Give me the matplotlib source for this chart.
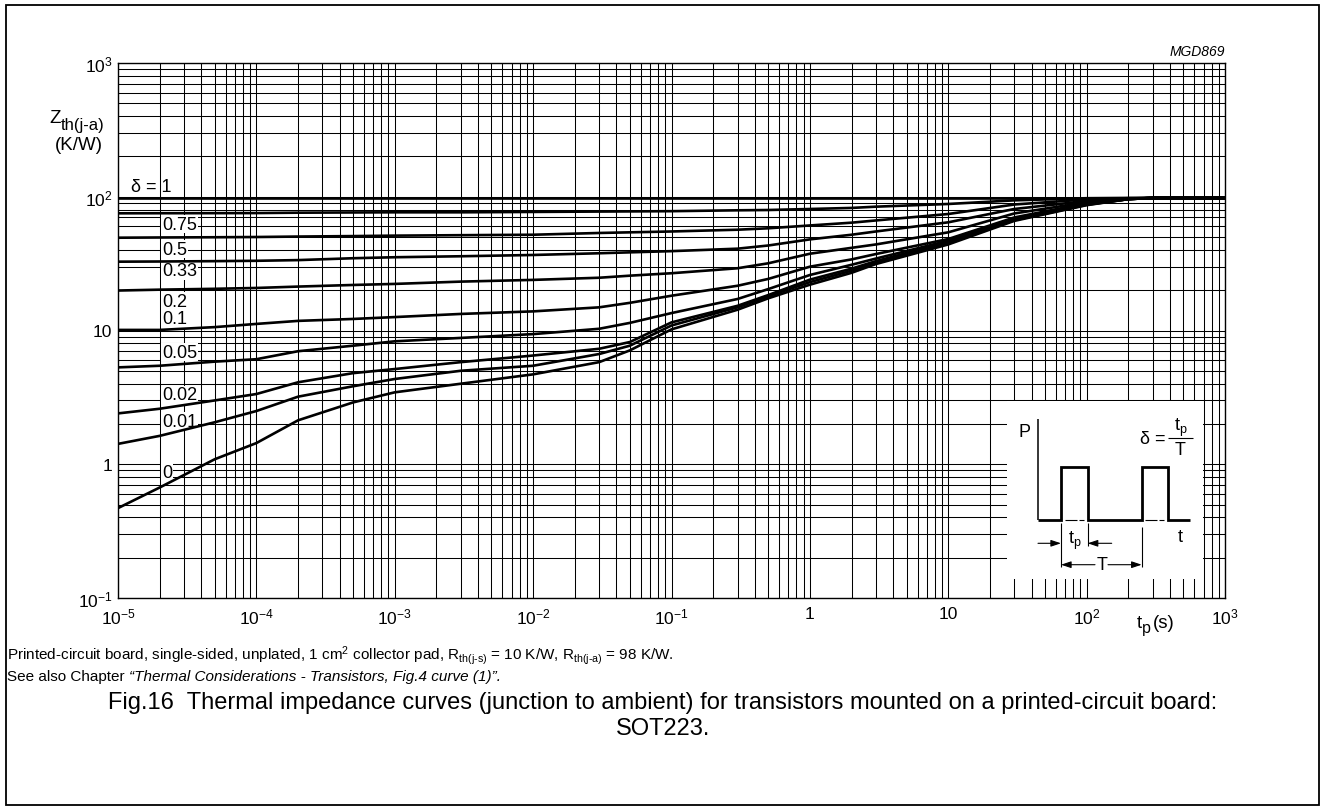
import matplotlib
matplotlib.use('Agg')
import matplotlib.pyplot as plt
from matplotlib.patches import Rectangle
from matplotlib.ticker import FixedLocator, NullFormatter, LogLocator
import numpy as np

plt.rcParams['font.family'] = ['Liberation Sans', 'DejaVu Sans']
plt.rcParams['mathtext.fontset'] = 'custom'
plt.rcParams['mathtext.rm'] = 'Liberation Sans'
plt.rcParams['mathtext.it'] = 'Liberation Sans:italic'
plt.rcParams['mathtext.bf'] = 'Liberation Sans:bold'
plt.rcParams['mathtext.default'] = 'regular'

# ---- data (pulse time tp in s, Zth(j-a) in K/W) ----
tp = [1e-5, 2e-5, 5e-5, 1e-4, 2e-4, 5e-4, 1e-3, 3e-3, 1e-2, 3e-2, 5e-2,
      1e-1, 3e-1, 5e-1, 1, 2, 3, 10, 30, 100, 200, 300, 1000]
z_d1 = [98] * 23
z_d075 = [75.2, 75.3, 75.4, 75.5, 76, 76.3, 76.5, 76.5, 77, 77.5, 77.7,
          78, 79.2, 79.6, 81, 82.5, 84.3, 88.3, 94, 97.5, 98, 98, 98]
z_d05 = [49.4, 49.6, 49.8, 50, 50.4, 50.8, 51.2, 51.6, 52, 53.6, 54.2,
         55, 56.7, 58.1, 61, 64, 66.5, 74.3, 87.5, 95.5, 97.5, 98, 98]
z_d033 = [32.7, 32.8, 33, 33.2, 33.6, 34.7, 35.3, 35.9, 36.7, 37.8, 38.4,
          39.2, 40.9, 43.2, 48, 52, 55, 64.4, 81, 93, 97, 98, 98]
z_d02 = [19.9, 20.2, 20.5, 20.8, 21.3, 21.9, 22.3, 23.2, 23.9, 24.8, 25.7,
         26.8, 29.2, 31.8, 37.5, 41.5, 44, 54.2, 75, 91, 96.5, 98, 98]
z_d01 = [10.1, 10.1, 10.6, 11.2, 11.8, 12.2, 12.6, 13.3, 13.9, 14.9, 16.1,
         18.2, 21.6, 24.3, 30, 34, 37.3, 48.3, 70, 89.5, 96, 98, 98]
z_d005 = [5.3, 5.45, 5.85, 6.1, 7.0, 7.7, 8.3, 8.8, 9.4, 10.3, 11.4,
          13.5, 17.2, 20.4, 26, 31, 34.5, 46.9, 68.5, 88, 96, 98, 98]
z_d002 = [2.4, 2.6, 3.0, 3.35, 4.1, 4.8, 5.15, 5.8, 6.5, 7.3, 8.2,
          11.5, 15.3, 18.4, 24, 29, 33, 45.9, 67.5, 87.5, 96, 98, 98]
z_d001 = [1.42, 1.63, 2.06, 2.5, 3.2, 3.83, 4.34, 5.0, 5.45, 6.67, 7.7,
          10.9, 14.9, 18.0, 23, 28, 32, 45.1, 66.8, 87, 96, 98, 98]
z_d0 = [0.47, 0.67, 1.09, 1.44, 2.13, 2.9, 3.45, 4.0, 4.7, 5.8, 7.1,
        10.2, 14.3, 17.4, 22, 27, 31.4, 44, 66, 86.5, 96, 98, 98]

series = [z_d1, z_d075, z_d05, z_d033, z_d02, z_d01, z_d005, z_d002, z_d001, z_d0]
labels = ['0.75', '0.5', '0.33', '0.2', '0.1', '0.05', '0.02', '0.01', '0']
label_z = [62.5, 40.6, 27.9, 16.6, 12.2, 6.9, 3.3, 2.1, 0.875]
label_tp = 2.08e-5

xticks = [1e-5, 1e-4, 1e-3, 1e-2, 1e-1, 1, 10, 100, 1000]
xticklabels = ['10$^{-5}$', '10$^{-4}$', '10$^{-3}$', '10$^{-2}$', '10$^{-1}$',
               '1', '10', '10$^{2}$', '10$^{3}$']
yticks = [0.1, 1, 10, 100, 1000]
yticklabels = ['10$^{-1}$', '1', '10', '10$^{2}$', '10$^{3}$']

W, H = 1325, 812
fig = plt.figure(figsize=(W / 100, H / 100), dpi=100)
fig.patch.set_facecolor('white')

ax = fig.add_axes([118 / W, 1 - 599 / H, 1107 / W, 535 / H])
ax.set_xscale('log')
ax.set_yscale('log')
ax.set_xlim(1e-5, 1e3)
ax.set_ylim(0.1, 1000)
ax.xaxis.set_major_locator(FixedLocator(xticks))
ax.yaxis.set_major_locator(FixedLocator(yticks))
ax.xaxis.set_minor_locator(LogLocator(base=10, subs=np.arange(2, 10), numticks=30))
ax.yaxis.set_minor_locator(LogLocator(base=10, subs=np.arange(2, 10), numticks=30))
ax.xaxis.set_minor_formatter(NullFormatter())
ax.yaxis.set_minor_formatter(NullFormatter())
ax.set_xticklabels(xticklabels)
ax.set_yticklabels(yticklabels)
ax.tick_params(which='both', length=0, labelsize=12.5, colors='black')
ax.tick_params(axis='x', pad=6)
ax.tick_params(axis='y', pad=4)
ax.grid(True, which='both', color='black', linewidth=0.75)
ax.set_axisbelow(True)
for s in ax.spines.values():
    s.set_linewidth(1.0)

for z in series:
    ax.plot(tp, z, color='black', linewidth=1.9, solid_capstyle='butt', zorder=3)

ax.text(1.73e-5, 120, 'δ = 1', fontsize=13, ha='center', va='center', zorder=4)
for lab, lz in zip(labels, label_z):
    ax.text(label_tp, lz, lab, fontsize=13, ha='left', va='center', zorder=2.5,
            bbox=dict(facecolor='white', edgecolor='none', pad=0.5))

# axis titles
fig.text(61 / W, 1 - 123 / H, 'Z', fontsize=13.5, ha='right', va='baseline')
fig.text(61 / W, 1 - 130 / H, 'th(j-a)', fontsize=12, ha='left', va='baseline')
fig.text(79 / W, 1 - 146 / H, '(K/W)', fontsize=13.5, ha='center', va='center')
fig.text(1142 / W, 1 - 628 / H, 't', fontsize=13.5, ha='right', va='baseline')
fig.text(1142 / W, 1 - 633 / H, 'p', fontsize=11.5, ha='left', va='baseline')
fig.text(1153 / W, 1 - 628 / H, '(s)', fontsize=13.5, ha='left', va='baseline')
fig.text(1225 / W, 1 - 52 / H, 'MGD869', fontsize=10, style='italic', ha='right', va='center')

# inset pulse diagram
ins = fig.add_axes([1007 / W, 1 - 580 / H, 196 / W, 178 / H])
ins.set_xlim(0, 196)
ins.set_ylim(178, 0)
ins.set_xticks([])
ins.set_yticks([])
for s in ins.spines.values():
    s.set_visible(False)
ins.set_facecolor('white')
ins.set_zorder(5)
k = dict(color='black', solid_capstyle='butt', solid_joinstyle='miter')
ins.plot([31, 31], [18, 119], linewidth=1.1, **k)
ins.plot([31, 54, 54, 80.7, 80.7, 134.7, 134.7, 161.3, 161.3, 183],
         [119, 119, 66.3, 66.3, 119, 119, 66.3, 66.3, 119, 119], linewidth=2.0, **k)
ins.plot([58, 70], [119, 119], linewidth=0.8, **k)
ins.plot([72, 77], [119, 119], linewidth=0.8, **k)
ins.plot([138, 150], [119, 119], linewidth=0.8, **k)
ins.plot([152, 157], [119, 119], linewidth=0.8, **k)
ins.plot([54, 54], [122, 166.3], linewidth=0.8, **k)
ins.plot([80.7, 80.7], [122, 145], linewidth=0.8, **k)
ins.plot([134.7, 134.7], [126, 166.3], linewidth=0.8, **k)
ap = dict(arrowstyle='-|>,head_length=0.6,head_width=0.2', color='black', lw=0.8,
          shrinkA=0, shrinkB=0)
ins.annotate('', xy=(54, 142.3), xytext=(31, 142.3), arrowprops=ap)
ins.annotate('', xy=(80.7, 142.3), xytext=(104.7, 142.3), arrowprops=ap)
ins.annotate('', xy=(54, 163.7), xytext=(88, 163.7), arrowprops=ap)
ins.annotate('', xy=(134.7, 163.7), xytext=(101, 163.7), arrowprops=ap)
fs_in = 13
ins.text(94.7, 163.7, 'T', fontsize=fs_in, ha='center', va='center')
ins.text(68, 139, 't$_{p}$', fontsize=fs_in, ha='center', va='center')
ins.text(17, 31, 'P', fontsize=fs_in, ha='center', va='center')
ins.text(173, 136, 't', fontsize=fs_in, ha='center', va='center')
ins.text(159, 38, 'δ =', fontsize=fs_in, ha='right', va='center')
ins.plot([161, 186], [37.3, 37.3], linewidth=0.8, **k)
ins.text(173.5, 26, 't$_{p}$', fontsize=fs_in, ha='center', va='center')
ins.text(173.5, 49, 'T', fontsize=fs_in, ha='center', va='center')

# notes and caption
fs_note = 11
fig.text(7 / W, 1 - 656 / H,
         'Printed-circuit board, single-sided, unplated, 1 cm$^{2}$ collector pad, '
         'R$_{th(j\u2010s)}$ = 10 K/W, R$_{th(j\u2010a)}$ = 98 K/W.',
         fontsize=fs_note, ha='left', va='center')
t1 = fig.text(7 / W, 1 - 677 / H, 'See also Chapter ', fontsize=fs_note, ha='left', va='center')
fig.add_artist(matplotlib.text.Annotation(
    '\u201cThermal Considerations - Transistors, Fig.4 curve (1)\u201d.',
    xy=(1, 0.5), xycoords=t1, fontsize=fs_note, style='italic',
    ha='left', va='center', annotation_clip=False))

fig.text(663 / W, 1 - 703 / H,
         'Fig.16  Thermal impedance curves (junction to ambient) for transistors mounted on a printed-circuit board:',
         fontsize=17, ha='center', va='center')
fig.text(663 / W, 1 - 729 / H, 'SOT223.', fontsize=17, ha='center', va='center')

fig.patches.append(Rectangle((6 / W, 6 / H), 1313 / W, 800 / H, transform=fig.transFigure,
                             fill=False, edgecolor='black', linewidth=1.3, figure=fig))

fig.savefig('out.png', dpi=100, facecolor='white')
